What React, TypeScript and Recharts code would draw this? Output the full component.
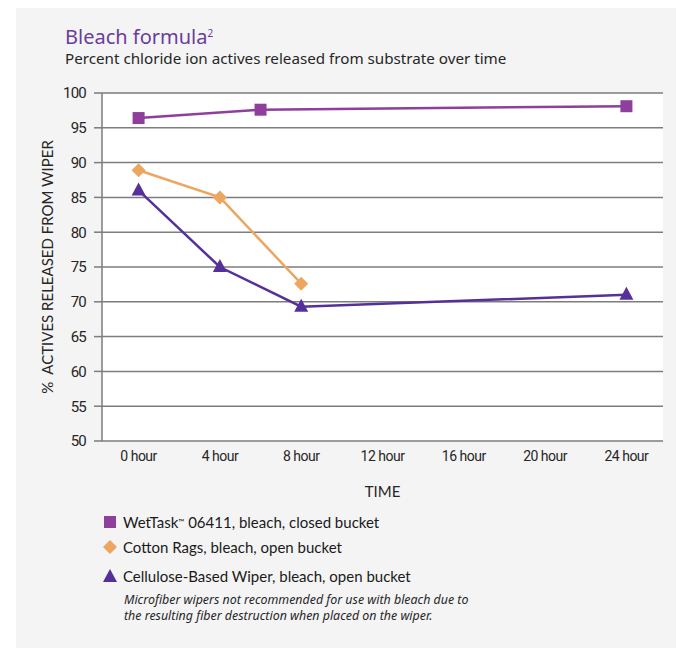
import { CartesianGrid, Line, LineChart, XAxis, YAxis } from "recharts"

const SQUARE_COLOR = "#8e3f9c"
const DIAMOND_COLOR = "#eca660"
const TRIANGLE_COLOR = "#55309a"
const GRID = "#7d7d7d"
const TEXT = "#262626"
const TICK_FONT = "Roboto, sans-serif"
const SANS = "'Noto Sans', sans-serif"
const LEGEND_FONT = "Lato, sans-serif"

// hours on the time axis, percent released on the value axis
const WETTASK_HOURS = [0, 6, 24]
const WETTASK_VALUES = [96.4, 97.6, 98.1]
const COTTON_HOURS = [0, 4, 8]
const COTTON_VALUES = [88.9, 85.0, 72.6]
const CELLULOSE_HOURS = [0, 4, 8, 24]
const CELLULOSE_VALUES = [86.0, 75.0, 69.3, 71.0]

const HOUR_LABELS = [0, 4, 8, 12, 16, 20, 24]
const HOUR_TICK_MARKS = [-2, 2, 6, 10, 14, 18, 22]
const VALUE_TICKS = [50, 55, 60, 65, 70, 75, 80, 85, 90, 95, 100]

const toRows = (hours: number[], values: number[]) =>
  hours.map((hour, i) => ({ hour, value: values[i] }))

const wetTask = toRows(WETTASK_HOURS, WETTASK_VALUES)
const cotton = toRows(COTTON_HOURS, COTTON_VALUES)
const cellulose = toRows(CELLULOSE_HOURS, CELLULOSE_VALUES)

function SquareDot({ cx, cy }: any) {
  return <rect x={cx - 6} y={cy - 6} width={12} height={12} fill={SQUARE_COLOR} />
}

function DiamondDot({ cx, cy }: any) {
  return <polygon points={`${cx},${cy - 7} ${cx + 7},${cy} ${cx},${cy + 7} ${cx - 7},${cy}`} fill={DIAMOND_COLOR} />
}

function TriangleDot({ cx, cy }: any) {
  return <polygon points={`${cx},${cy - 8} ${cx + 7},${cy + 5} ${cx - 7},${cy + 5}`} fill={TRIANGLE_COLOR} />
}

function Marker({ kind }: { kind: "square" | "diamond" | "triangle" }) {
  return (
    <svg width={16} height={16} style={{ position: "absolute", left: 0, top: 0 }}>
      {kind === "square" && <SquareDot cx={8} cy={8} />}
      {kind === "diamond" && <DiamondDot cx={8} cy={8} />}
      {kind === "triangle" && <TriangleDot cx={8} cy={9} />}
    </svg>
  )
}

function LegendRow({ top, kind, children }: { top: number; kind: "square" | "diamond" | "triangle"; children: any }) {
  return (
    <div style={{ position: "absolute", left: 102, top, height: 16 }}>
      <Marker kind={kind} />
      <div
        style={{
          position: "absolute",
          left: 21,
          top: 0,
          fontFamily: LEGEND_FONT,
          fontSize: 15,
          lineHeight: "16px",
          color: "#1a1a1a",
          whiteSpace: "nowrap",
        }}
      >
        {children}
      </div>
    </div>
  )
}

export default function App() {
  return (
    <div style={{ position: "absolute", left: 0, top: 0, width: 676, height: 648, background: "#fff", overflow: "hidden" }}>
      <div style={{ position: "absolute", left: 16, top: 8, width: 660, height: 640, background: "#f4f4f4" }} />

      <div
        style={{
          position: "absolute",
          left: 65,
          top: 27,
          fontFamily: SANS,
          fontSize: 20,
          lineHeight: 1,
          color: "#6a3c9c",
          whiteSpace: "nowrap",
        }}
      >
        Bleach formula<sup style={{ fontSize: 10, verticalAlign: "top", position: "relative", top: 1 }}>2</sup>
      </div>
      <div
        style={{
          position: "absolute",
          left: 65,
          top: 51,
          fontFamily: SANS,
          fontSize: 15.2,
          lineHeight: 1,
          color: TEXT,
          whiteSpace: "nowrap",
        }}
      >
        Percent chloride ion actives released from substrate over time
      </div>

      <div style={{ position: "absolute", left: 0, top: 0 }}>
        <LineChart width={676} height={505} margin={{ top: 93, right: 13, left: 12, bottom: 4 }}>
          <CartesianGrid vertical={false} stroke={GRID} strokeWidth={1.5} fill="#fff" />
          <XAxis
            xAxisId="marks"
            type="number"
            dataKey="hour"
            domain={[-2, 26]}
            ticks={HOUR_TICK_MARKS}
            tickSize={6}
            tickFormatter={() => ""}
            height={0}
            stroke={GRID}
            strokeWidth={1.5}
            allowDataOverflow
          />
          <XAxis
            xAxisId="hours"
            type="number"
            dataKey="hour"
            domain={[-1.8, 25.8]}
            ticks={HOUR_LABELS}
            tickFormatter={(v) => `${v} hour`}
            axisLine={false}
            tickLine={false}
            height={60}
            tickMargin={4}
            tick={{ fill: TEXT, fontSize: 14, fontFamily: TICK_FONT, letterSpacing: -0.5 }}
            label={{ value: "TIME", position: "insideBottom", offset: 4, fill: TEXT, fontSize: 15, fontFamily: LEGEND_FONT }}
            allowDataOverflow
          />
          <YAxis
            type="number"
            domain={[50, 100]}
            ticks={VALUE_TICKS}
            width={90}
            tickSize={8}
            tickMargin={8}
            stroke={GRID}
            strokeWidth={1.5}
            tick={{ fill: TEXT, fontSize: 15, fontFamily: TICK_FONT, letterSpacing: -0.8 }}
            label={{
              value: "%\u00a0\u00a0ACTIVES RELEASED FROM WIPER",
              angle: -90,
              position: "insideLeft",
              offset: 36,
              fill: TEXT,
              fontSize: 15,
              fontFamily: LEGEND_FONT,
              style: { textAnchor: "middle" },
            }}
          />
          <Line
            xAxisId="hours"
            data={wetTask}
            dataKey="value"
            stroke={SQUARE_COLOR}
            strokeWidth={2.5}
            dot={<SquareDot />}
            activeDot={false}
            isAnimationActive={false}
          />
          <Line
            xAxisId="hours"
            data={cotton}
            dataKey="value"
            stroke={DIAMOND_COLOR}
            strokeWidth={2.5}
            dot={<DiamondDot />}
            activeDot={false}
            isAnimationActive={false}
          />
          <Line
            xAxisId="hours"
            data={cellulose}
            dataKey="value"
            stroke={TRIANGLE_COLOR}
            strokeWidth={2.5}
            dot={<TriangleDot />}
            activeDot={false}
            isAnimationActive={false}
          />
        </LineChart>
      </div>

      <LegendRow top={514} kind="square">
        WetTask<sup style={{ fontSize: 8, verticalAlign: "top" }}>™</sup> 06411, bleach, closed bucket
      </LegendRow>
      <LegendRow top={539} kind="diamond">
        Cotton Rags, bleach, open bucket
      </LegendRow>
      <LegendRow top={568} kind="triangle">
        Cellulose-Based Wiper, bleach, open bucket
      </LegendRow>
      <div
        style={{
          position: "absolute",
          left: 124,
          top: 592,
          fontFamily: SANS,
          fontSize: 12.4,
          fontStyle: "italic",
          lineHeight: "15.5px",
          color: TEXT,
          whiteSpace: "nowrap",
        }}
      >
        Microfiber wipers not recommended for use with bleach due to
        <br />
        the resulting fiber destruction when placed on the wiper.
      </div>
    </div>
  )
}
